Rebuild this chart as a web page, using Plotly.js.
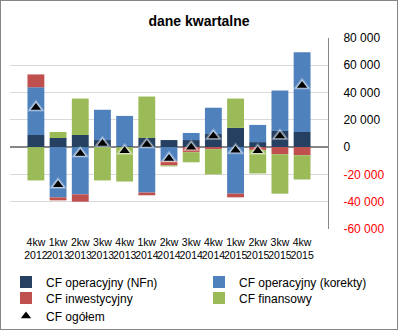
<!DOCTYPE html>
<html>
<head>
<meta charset="utf-8">
<script src="https://cdn.plot.ly/plotly-3.0.1.min.js"></script>
<style>
  html, body { margin: 0; padding: 0; background: #fff; }
  #chart { width: 396px; height: 328px; border: 1px solid #868686; }
</style>
</head>
<body>
<div id="chart"></div>
<script>
const categories = ["4kw<br>2012","1kw<br>2013","2kw<br>2013","3kw<br>2013","4kw<br>2013","1kw<br>2014","2kw<br>2014","3kw<br>2014","4kw<br>2014","1kw<br>2015","2kw<br>2015","3kw<br>2015","4kw<br>2015"];
const cfOperNFn   = [8900, 6700, 8900, 5200, 700, 6700, 5200, 5200, 9600, 14100, 3700, 11900, 11100];
const cfOperKor   = [35000, -36800, -34600, 22200, 22200, -33300, -10400, 5200, 19300, -34100, 12600, 29600, 58500];
const cfInwest    = [9400, -2200, -5400, 0, 0, -2000, -3000, -3700, -1500, -2700, -2000, -5200, -5900];
const cfFinans    = [-24400, 4400, 26700, -24400, -25200, 30400, -700, -7400, -18500, 21500, -17300, -28900, -17800];
const cfOgolem    = [29100, -27600, -4700, 2700, -2700, 2000, -8400, 0, 8100, -2200, -2700, 8100, 45200];
const yTickVals   = [-60000, -40000, -20000, 0, 20000, 40000, 60000, 80000];
const yTickText   = ['<span style="color:#FF0000">-60 000</span>','<span style="color:#FF0000">-40 000</span>','<span style="color:#FF0000">-20 000</span>','0','20 000','40 000','60 000','80 000'];

const FONT = 'Liberation Sans, Arial, sans-serif';
const traces = [
  {type:'bar', name:'CF operacyjny (NFn)', x:categories, y:cfOperNFn, marker:{color:'#254061'}, legend:'legend'},
  {type:'bar', name:'CF operacyjny (korekty)', x:categories, y:cfOperKor, marker:{color:'#4F81BD'}, legend:'legend2'},
  {type:'bar', name:'CF inwestycyjny', x:categories, y:cfInwest, marker:{color:'#C0504D'}, legend:'legend3'},
  {type:'bar', name:'CF finansowy', x:categories, y:cfFinans, marker:{color:'#9BBB59'}, legend:'legend4'},
  {type:'scatter', mode:'markers', x:categories, y:cfOgolem, showlegend:false, hoverinfo:'skip',
   marker:{symbol:'triangle-up', size:16, color:'rgba(255,255,255,0.3)'}},
  {type:'scatter', mode:'markers', x:categories, y:cfOgolem, showlegend:false, hoverinfo:'skip',
   marker:{symbol:'triangle-up', size:12.5, color:'rgba(255,255,255,0.45)'}},
  {type:'scatter', mode:'markers', name:'CF ogółem', x:categories, y:cfOgolem, legend:'legend5',
   marker:{symbol:'triangle-up', size:9, color:'#000000'}}
];

const L = 9, PW = 318, T = 37, PH = 191;
function px(xd) { return (xd - L) / PW; }
function py(yd) { return (T + PH - yd) / PH; }
function leg(xText, yRow) {
  return {orientation: 'v', x: px(xText - 40), xanchor: 'left', y: py(yRow), yanchor: 'middle',
          font: {family: FONT, size: 12, color: '#000'}, bgcolor: 'rgba(0,0,0,0)', itemwidth: 30};
}

const layout = {
  width: 396, height: 328,
  margin: {l: L, r: 396 - L - PW, t: T, b: 328 - T - PH, autoexpand: false},
  paper_bgcolor: '#ffffff', plot_bgcolor: '#ffffff',
  barmode: 'relative', bargap: 0.24,
  font: {family: FONT, size: 12, color: '#000'},
  title: {text: '<b>dane kwartalne</b>', font: {family: FONT, size: 14, color: '#000'},
          xref: 'container', x: 0.5, xanchor: 'center', yref: 'container', y: 0.94, yanchor: 'middle'},
  xaxis: {type: 'category', tickangle: 0, showgrid: false, showline: false, zeroline: false,
          ticks: '', ticklabelstandoff: 5,
          tickfont: {family: FONT, size: 10.5, color: '#000'}, automargin: false},
  yaxis: {side: 'right', range: [-60000, 80000], tickvals: yTickVals, ticktext: yTickText,
          showgrid: true, gridcolor: '#D9D9D9', gridwidth: 1,
          zeroline: true, zerolinecolor: '#868686', zerolinewidth: 1.5,
          showline: true, linecolor: '#868686', linewidth: 1, ticks: '',
          ticklabelstandoff: 12,
          tickfont: {family: FONT, size: 12, color: '#000'}, automargin: false},
  showlegend: true,
  legend:  leg(45, 281),
  legend2: leg(238, 281),
  legend3: leg(45, 297),
  legend4: leg(238, 297),
  legend5: leg(45, 315)
};

Plotly.newPlot('chart', traces, layout, {displayModeBar: false, staticPlot: true});
</script>
</body>
</html>
